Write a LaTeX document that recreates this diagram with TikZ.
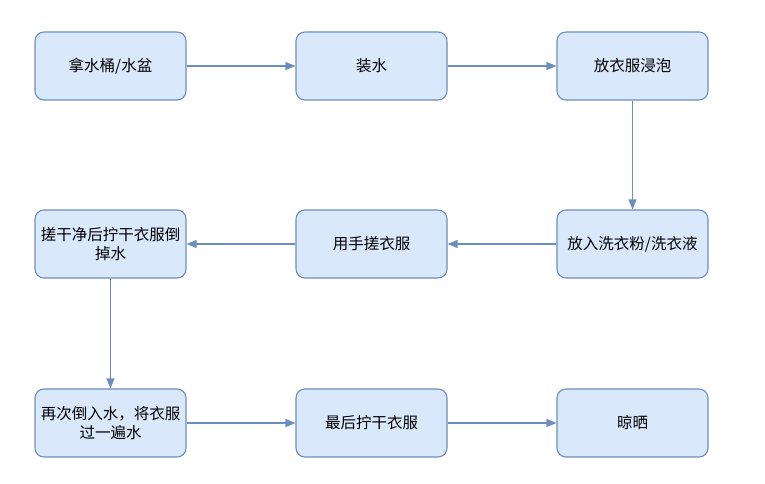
\documentclass[tikz,border=0pt]{standalone}
\usepackage{fontspec}
\newfontfamily\cjk{Noto Sans CJK SC}
\usetikzlibrary{arrows.meta}
\definecolor{boxfill}{HTML}{DAE8FC}
\definecolor{boxline}{HTML}{6C8EBF}
\begin{document}
\begin{tikzpicture}[x={(1pt,0pt)},y={(0pt,-1pt)},
  stepbox/.style={draw=boxline, fill=boxfill, line width=1.1pt, rounded corners=9pt,
    minimum width=151pt, minimum height=68pt, inner sep=0pt, align=center,
    font=\cjk\fontsize{15.5}{19}\selectfont},
  flow/.style={draw=boxline, line width=1.1pt, -{Stealth[length=10pt,width=8pt,inset=0pt]}}]
\useasboundingbox (0,0) rectangle (765,484);
\node[stepbox] (take) at (110.5,66) {拿水桶/水盆};
\node[stepbox] (fill) at (371.5,66) {装水};
\node[stepbox] (soak) at (632.5,66) {放衣服浸泡};
\node[stepbox] (powder) at (632.5,244) {放入洗衣粉/洗衣液};
\node[stepbox] (scrub) at (371.5,244) {用手搓衣服};
\node[stepbox] (wring) at (110.5,244) {搓干净后拧干衣服倒\\掉水};
\node[stepbox] (rinse) at (110.5,423) {再次倒入水，将衣服\\过一遍水};
\node[stepbox] (last) at (371.5,423) {最后拧干衣服};
\node[stepbox] (dry) at (632.5,423) {晾晒};
\draw[flow] (take) -- (fill);
\draw[flow] (fill) -- (soak);
\draw[flow] (soak) -- (powder);
\draw[flow] (powder) -- (scrub);
\draw[flow] (scrub) -- (wring);
\draw[flow] (wring) -- (rinse);
\draw[flow] (rinse) -- (last);
\draw[flow] (last) -- (dry);
\end{tikzpicture}
\end{document}
